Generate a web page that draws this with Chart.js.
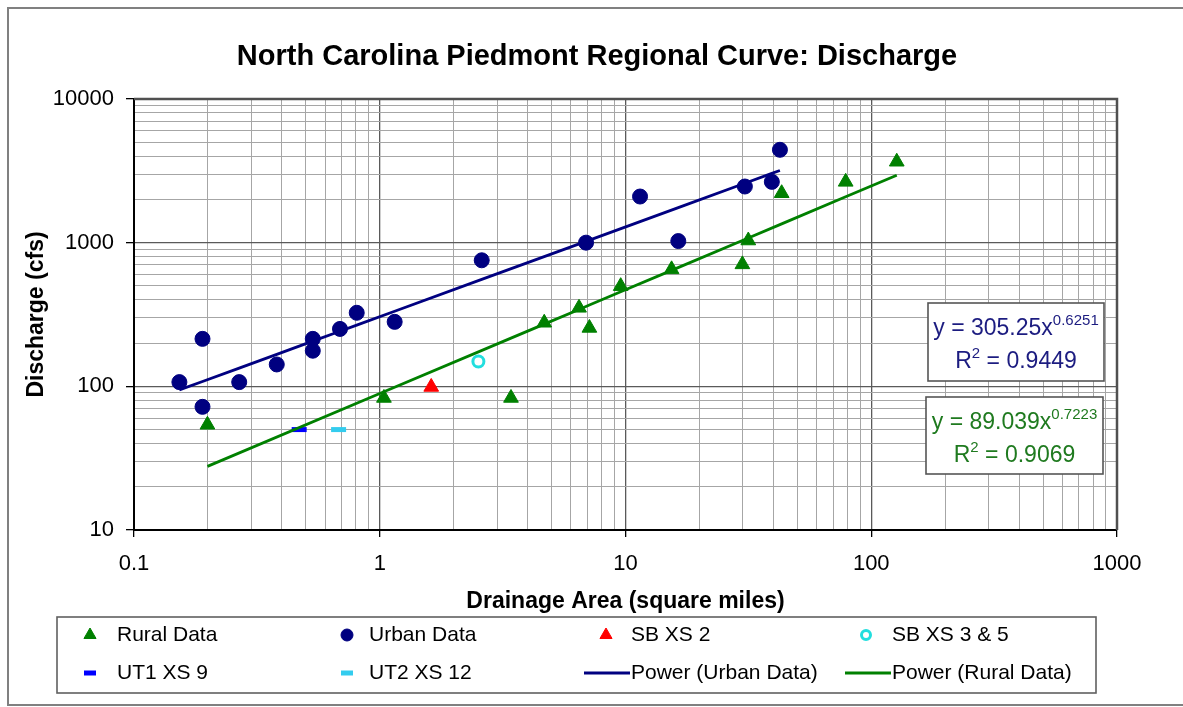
<!DOCTYPE html>
<html>
<head>
<meta charset="utf-8">
<title>North Carolina Piedmont Regional Curve: Discharge</title>
<style>
  html, body { margin: 0; padding: 0; background: #ffffff; }
  #wrap { position: relative; width: 1183px; height: 707px; }
  canvas { display: block; }
</style>
<script src="https://cdn.jsdelivr.net/npm/chart.js@4.4.1/dist/chart.umd.min.js"></script>
</head>
<body>
<div id="wrap"><canvas id="chart" width="1183" height="707"></canvas></div>
<script>
// ---- Text ----
const chartTitle = 'North Carolina Piedmont Regional Curve: Discharge';
const xAxisTitle = 'Drainage Area (square miles)';
const yAxisTitle = 'Discharge (cfs)';

// ---- Axis ticks ----
const xTickValues = [0.1, 1, 10, 100, 1000];
const xTickLabels = ['0.1', '1', '10', '100', '1000'];
const yTickValues = [10, 100, 1000, 10000];
const yTickLabels = ['10', '100', '1000', '10000'];

// ---- Regional curve data (drainage area in sq mi, discharge in cfs) ----
const ruralArea = [0.199, 1.04, 3.42, 4.67, 6.47, 7.13, 9.56, 15.4, 29.9, 31.6, 43.2, 78.7, 127];
const ruralQ    = [54, 83, 83, 277, 352, 255, 498, 652, 706, 1035, 2208, 2650, 3658];

const urbanArea = [0.153, 0.190, 0.190, 0.268, 0.381, 0.534, 0.534, 0.689, 0.806, 1.15, 2.60, 6.91, 11.46, 16.4, 30.6, 39.4, 42.5];
const urbanQ    = [107, 214, 72, 107, 142, 214, 177, 251, 325, 281, 754, 1000, 2095, 1026, 2460, 2650, 4430];

// ---- Project cross sections ----
const sbXs2Area = [1.62];
const sbXs2Q    = [99];
const sbXs35Area = [2.52];
const sbXs35Q    = [149];
const ut1Xs9Area = [0.47];
const ut1Xs9Q    = [50];
const ut2Xs12Area = [0.68];
const ut2Xs12Q    = [50];

// ---- Power-law fits: Q = a * A^b ----
const urbanFitCoef = [305.25, 0.6251];
const urbanFitR2 = 0.9449;
const ruralFitCoef = [89.039, 0.7223];
const ruralFitR2 = 0.9069;

// ---- Colours ----
const NAVY = '#000080';
const GREEN = '#008000';
const RED = '#ff0000';
const CYAN = '#22dede';
const BLUE = '#0000ff';
const SKY = '#33ccee';

function zip(xs, ys) { return xs.map((x, i) => ({ x: x, y: ys[i] })); }

// fitted curve evaluated over the x range of its own data
function fitLine(xs, coef) {
  const sorted = Array.from(new Set(xs)).sort((a, b) => a - b);
  return sorted.map(x => ({ x: x, y: coef[0] * Math.pow(x, coef[1]) }));
}

function isDecade(v) {
  const l = Math.log10(v);
  return Math.abs(l - Math.round(l)) < 1e-9;
}

// log-paper grid: 1..9 in every decade between min and max
function logGrid(min, max) {
  const out = [];
  for (let e = Math.round(Math.log10(min)); e < Math.round(Math.log10(max)); e++) {
    const p = Math.pow(10, e);
    for (let k = 1; k <= 9; k++) out.push(parseFloat((k * p).toPrecision(6)));
  }
  out.push(max);
  return out;
}

function labelFor(value, values, labels) {
  if (!isDecade(value)) return '';
  const i = values.findIndex(v => Math.abs(Math.log10(v) - Math.log10(value)) < 1e-9);
  return i >= 0 ? labels[i] : '';
}

const FONT = '"Liberation Sans", Arial, Helvetica, sans-serif';
Chart.defaults.font.family = FONT;
Chart.defaults.color = '#000';

const datasets = [
  { label: 'Power (Urban Data)', data: fitLine(urbanArea, urbanFitCoef), showLine: true,
    borderColor: NAVY, borderWidth: 2.8, pointRadius: 0, order: 0, legendLine: true },
  { label: 'Power (Rural Data)', data: fitLine(ruralArea, ruralFitCoef), showLine: true,
    borderColor: GREEN, borderWidth: 2.8, pointRadius: 0, order: 0, legendLine: true },
  { label: 'Rural Data', data: zip(ruralArea, ruralQ), pointStyle: 'triangle', pointRadius: 8.5,
    backgroundColor: GREEN, borderColor: GREEN, borderWidth: 1, order: 1 },
  { label: 'Urban Data', data: zip(urbanArea, urbanQ), pointStyle: 'circle', pointRadius: 7.5,
    backgroundColor: NAVY, borderColor: NAVY, borderWidth: 1, order: 1 },
  { label: 'SB XS 2', data: zip(sbXs2Area, sbXs2Q), pointStyle: 'triangle', pointRadius: 8.5,
    backgroundColor: RED, borderColor: RED, borderWidth: 1, order: 1 },
  { label: 'SB XS 3 & 5', data: zip(sbXs35Area, sbXs35Q), pointStyle: 'circle', pointRadius: 5.5,
    backgroundColor: '#ffffff', borderColor: CYAN, borderWidth: 3, order: 1 },
  { label: 'UT1 XS 9', data: zip(ut1Xs9Area, ut1Xs9Q), pointStyle: 'line', pointRadius: 7.5,
    backgroundColor: BLUE, borderColor: BLUE, borderWidth: 5, order: 1 },
  { label: 'UT2 XS 12', data: zip(ut2Xs12Area, ut2Xs12Q), pointStyle: 'line', pointRadius: 7.5,
    backgroundColor: SKY, borderColor: SKY, borderWidth: 5, order: 1 }
];

// legend layout: label order as listed, two rows of four
const legendOrder = ['Rural Data', 'Urban Data', 'SB XS 2', 'SB XS 3 & 5',
                     'UT1 XS 9', 'UT2 XS 12', 'Power (Urban Data)', 'Power (Rural Data)'];

function drawEquation(ctx, box, coef, r2, color) {
  ctx.save();
  ctx.fillStyle = '#ffffff';
  ctx.fillRect(box.x, box.y, box.w, box.h);
  ctx.strokeStyle = '#555555';
  ctx.lineWidth = 1.6;
  ctx.strokeRect(box.x, box.y, box.w, box.h);
  ctx.fillStyle = color;
  ctx.textBaseline = 'alphabetic';
  ctx.textAlign = 'left';
  const big = '23px ' + FONT, small = '15px ' + FONT;
  const cx = box.x + box.w / 2;
  // line 1: y = a x^b
  const main1 = 'y = ' + coef[0] + 'x', sup1 = String(coef[1]);
  ctx.font = big; const w1 = ctx.measureText(main1).width;
  ctx.font = small; const s1 = ctx.measureText(sup1).width;
  let x = cx - (w1 + s1) / 2;
  const base1 = box.y + 32;
  ctx.font = big; ctx.fillText(main1, x, base1);
  ctx.font = small; ctx.fillText(sup1, x + w1, base1 - 10);
  // line 2: R^2 = r
  const a2 = 'R', sup2 = '2', b2 = ' = ' + r2;
  ctx.font = big; const wa = ctx.measureText(a2).width, wb = ctx.measureText(b2).width;
  ctx.font = small; const ws = ctx.measureText(sup2).width;
  x = cx - (wa + ws + wb) / 2;
  const base2 = box.y + 65;
  ctx.font = big; ctx.fillText(a2, x, base2);
  ctx.font = small; ctx.fillText(sup2, x + wa, base2 - 10);
  ctx.font = big; ctx.fillText(b2, x + wa + ws, base2);
  ctx.restore();
}

const decorations = {
  id: 'decorations',
  beforeDraw(chart) {
    const ctx = chart.ctx;
    ctx.save();
    ctx.fillStyle = '#ffffff';
    ctx.fillRect(0, 0, chart.width, chart.height);
    ctx.strokeStyle = '#808080';
    ctx.lineWidth = 2;
    ctx.strokeRect(8, 8, 1190, 697);
    // chart title
    ctx.fillStyle = '#000';
    ctx.font = 'bold 29px ' + FONT;
    ctx.textAlign = 'center';
    ctx.textBaseline = 'middle';
    ctx.fillText(chartTitle, 597, 57);
    ctx.restore();
  },
  beforeDatasetsDraw(chart) {
    const ctx = chart.ctx;
    const a = chart.chartArea;
    ctx.save();
    ctx.strokeStyle = '#505050';
    ctx.lineWidth = 2.5;
    ctx.beginPath();
    ctx.moveTo(a.left, a.top);
    ctx.lineTo(a.right, a.top);
    ctx.lineTo(a.right, a.bottom);
    ctx.stroke();
    ctx.restore();
  },
  afterDraw(chart) {
    const ctx = chart.ctx;
    drawEquation(ctx, { x: 928, y: 303, w: 176, h: 78 }, urbanFitCoef, urbanFitR2, '#1c1c80');
    drawEquation(ctx, { x: 926, y: 397, w: 177, h: 77 }, ruralFitCoef, ruralFitR2, '#1f7a1f');

    // legend
    ctx.save();
    ctx.fillStyle = '#ffffff';
    ctx.fillRect(57, 617, 1039, 76);
    ctx.strokeStyle = '#606060';
    ctx.lineWidth = 1.6;
    ctx.strokeRect(57, 617, 1039, 76);
    const markerX = [90, 347, 606, 866];
    const textX = [117, 369, 631, 892];
    const rowY = [635, 673];
    ctx.font = '21px ' + FONT;
    ctx.textBaseline = 'middle';
    ctx.textAlign = 'left';
    legendOrder.forEach((name, i) => {
      const ds = chart.data.datasets.find(d => d.label === name);
      const col = i % 4, row = Math.floor(i / 4);
      const y = rowY[row];
      ctx.save();
      if (ds.legendLine) {
        ctx.strokeStyle = ds.borderColor;
        ctx.lineWidth = 3;
        ctx.beginPath();
        ctx.moveTo(textX[col] - 47, y);
        ctx.lineTo(textX[col] - 1, y);
        ctx.stroke();
      } else {
        ctx.fillStyle = ds.backgroundColor;
        ctx.strokeStyle = ds.borderColor;
        ctx.lineWidth = ds.borderWidth;
        const r = ds.pointStyle === 'line' ? 6 : (ds.pointStyle === 'triangle' ? 7 : (ds.label === 'SB XS 3 & 5' ? 4.5 : 6));
        Chart.helpers.drawPoint(ctx, { pointStyle: ds.pointStyle, rotation: 0, radius: r, borderWidth: ds.borderWidth }, markerX[col], y);
      }
      ctx.restore();
      ctx.fillStyle = '#000';
      ctx.fillText(name, textX[col], y);
    });
    ctx.restore();
  }
};

new Chart(document.getElementById('chart'), {
  type: 'scatter',
  data: { datasets: datasets },
  plugins: [decorations],
  options: {
    responsive: false,
    animation: false,
    devicePixelRatio: 1,
    layout: { padding: { left: 10, right: 66, top: 99, bottom: 92 } },
    plugins: {
      legend: { display: false },
      tooltip: { enabled: false },
      title: { display: false }
    },
    scales: {
      x: {
        type: 'logarithmic', position: 'bottom', min: 0.1, max: 1000,
        afterBuildTicks: s => { s.ticks = logGrid(0.1, 1000).map(v => ({ value: v })); },
        afterFit: s => { s.height = 85; },
        ticks: {
          autoSkip: false, maxRotation: 0, minRotation: 0, padding: 14, color: '#000',
          font: { size: 22, family: FONT },
          callback: v => labelFor(v, xTickValues, xTickLabels)
        },
        grid: {
          color: c => (c.tick && isDecade(c.tick.value)) ? '#5a5a5a' : '#a6a6a6',
          lineWidth: c => (c.tick && isDecade(c.tick.value)) ? 1.3 : 1,
          tickLength: 7,
          tickColor: c => (c.tick && isDecade(c.tick.value)) ? '#000' : 'rgba(0,0,0,0)'
        },
        border: { display: true, color: '#000', width: 2 },
        title: {
          display: true, text: xAxisTitle, color: '#000',
          font: { size: 23, weight: 'bold', family: FONT },
          padding: { top: 0, bottom: 0 }
        }
      },
      y: {
        type: 'logarithmic', position: 'left', min: 10, max: 10000,
        afterBuildTicks: s => { s.ticks = logGrid(10, 10000).map(v => ({ value: v })); },
        afterFit: s => { s.width = 124; },
        ticks: {
          autoSkip: false, padding: 12, color: '#000',
          font: { size: 22, family: FONT },
          callback: v => labelFor(v, yTickValues, yTickLabels)
        },
        grid: {
          color: c => (c.tick && isDecade(c.tick.value)) ? '#5a5a5a' : '#a6a6a6',
          lineWidth: c => (c.tick && isDecade(c.tick.value)) ? 1.3 : 1,
          tickLength: 8,
          tickColor: c => (c.tick && isDecade(c.tick.value)) ? '#000' : 'rgba(0,0,0,0)'
        },
        border: { display: true, color: '#000', width: 2 },
        title: {
          display: true, text: yAxisTitle, color: '#000',
          font: { size: 23, weight: 'bold', family: FONT },
          padding: { top: 13, bottom: 0 }
        }
      }
    }
  }
});
</script>
</body>
</html>
